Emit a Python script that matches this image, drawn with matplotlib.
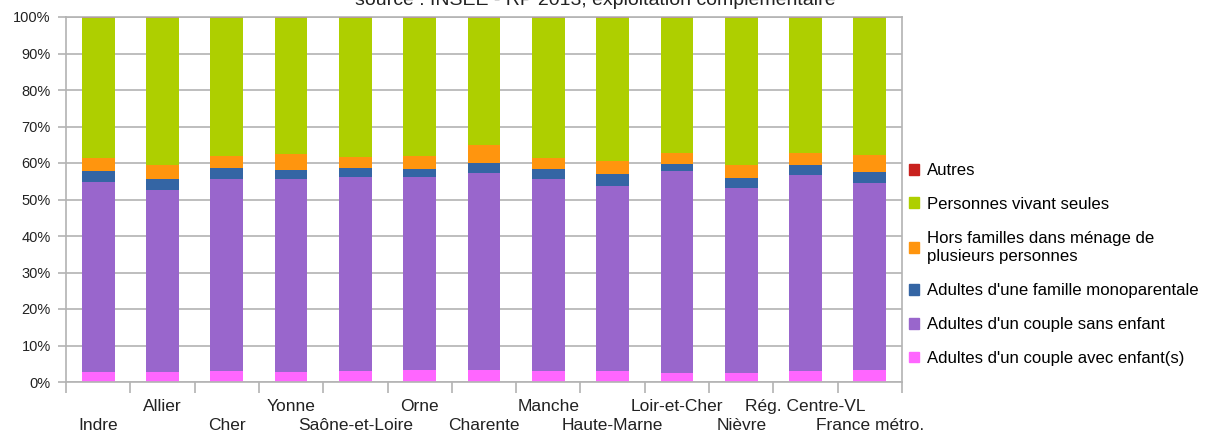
import numpy as np
import matplotlib.pyplot as plt
from matplotlib.patches import Patch

plt.rcParams['font.family'] = ['Liberation Sans', 'DejaVu Sans']

# territoires
categories = ['Indre', 'Allier', 'Cher', 'Yonne', 'Saône-et-Loire', 'Orne', 'Charente',
              'Manche', 'Haute-Marne', 'Loir-et-Cher', 'Nièvre', 'Rég. Centre-VL', 'France métro.']

# parts en %, de bas en haut
avec_enfants = [2.7, 2.7, 3.0, 2.7, 3.0, 3.3, 3.3, 3.0, 3.0, 2.5, 2.5, 3.0, 3.3]
sans_enfant = [52.1, 49.9, 52.6, 52.9, 53.2, 52.9, 54.0, 52.6, 50.7, 55.3, 50.65, 53.7, 51.2]
monoparentale = [3.0, 3.0, 3.0, 2.5, 2.4, 2.2, 2.7, 2.8, 3.3, 1.9, 2.75, 2.75, 3.0]
hors_familles = [3.65, 3.85, 3.4, 4.5, 3.0, 3.6, 4.9, 3.05, 3.5, 3.0, 3.55, 3.25, 4.7]
seules = [38.35, 40.35, 37.8, 37.2, 38.2, 37.8, 34.9, 38.35, 39.3, 37.1, 40.35, 37.1, 37.6]
autres = [0.2] * 13

series = [
    ("Adultes d'un couple avec enfant(s)", avec_enfants, '#ff66ff'),
    ("Adultes d'un couple sans enfant", sans_enfant, '#9966cc'),
    ("Adultes d'une famille monoparentale", monoparentale, '#3465a4'),
    ("Hors familles dans ménage de\nplusieurs personnes", hors_familles, '#ff950e'),
    ("Personnes vivant seules", seules, '#aecf00'),
    ("Autres", autres, '#c9211e'),
]

fig = plt.figure(figsize=(12.05, 4.34), dpi=100)
ax = fig.add_axes([66 / 1205, 52 / 434, 836 / 1205, 365 / 434])

x = np.arange(len(categories))
bottom = np.zeros(len(categories))
handles = []
for label, vals, color in series:
    vals = np.array(vals)
    ax.bar(x, vals, 0.51, bottom=bottom, color=color, zorder=2)
    bottom += vals
    handles.append(Patch(color=color, label=label))

grey = '#b3b3b3'
ax.set_xlim(-0.5, len(categories) - 0.5)
ax.set_ylim(0, 100)
ax.set_yticks(np.arange(0, 101, 10))
ax.set_yticklabels([f'{v}%' for v in range(0, 101, 10)], fontsize=10.5, color='#222222')
ax.yaxis.grid(True, color=grey, linewidth=1.2, zorder=0)
ax.tick_params(axis='y', length=6, color=grey, width=1.2, pad=5)

ax.set_xticks(x)
ax.set_xticklabels(categories, fontsize=12.5, color='#222222')
ax.set_xticks(np.arange(-0.5, len(categories), 1), minor=True)
ax.tick_params(axis='x', which='major', length=0, pad=12)
ax.tick_params(axis='x', which='minor', length=8, color=grey, width=1.2)
for i, lbl in enumerate(ax.get_xticklabels()):
    if i % 2 == 0:
        lbl.set_y(-19.5 / 365)

for s in ax.spines.values():
    s.set_color(grey)
    s.set_linewidth(1.2)

fig.text(595 / 1205, 1 - 5 / 434, 'source : INSEE - RP 2013, exploitation complémentaire',
         ha='center', va='baseline', fontsize=14, color='#222222')

leg = fig.legend(handles=handles[::-1], loc='upper left', bbox_to_anchor=(909 / 1205, 1 - 163 / 434),
                 frameon=False, fontsize=12.1, handlelength=0.62, handleheight=0.62,
                 handletextpad=0.47, labelspacing=1.12, borderaxespad=0, borderpad=0)
for t in leg.get_texts():
    t.set_linespacing(1.32)

fig.savefig('out.png', dpi=100)
